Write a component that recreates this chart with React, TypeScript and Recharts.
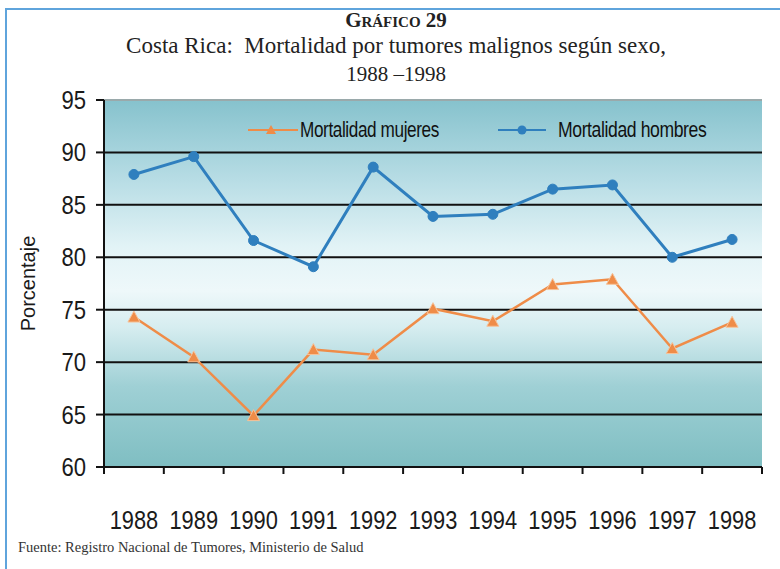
import React from "react";
import {
  LineChart,
  Line,
  XAxis,
  YAxis,
  CartesianGrid,
  ReferenceLine,
} from "recharts";

const years = ["1988", "1989", "1990", "1991", "1992", "1993", "1994", "1995", "1996", "1997", "1998"];
const mujeres = [74.3, 70.5, 64.9, 71.2, 70.7, 75.1, 73.9, 77.4, 77.9, 71.3, 73.8];
const hombres = [87.9, 89.6, 81.6, 79.1, 88.6, 83.9, 84.1, 86.5, 86.9, 80.0, 81.7];
const yTicks = [60, 65, 70, 75, 80, 85, 90, 95];
const gridValues = [65, 70, 75, 80, 85, 90];

const data = years.map((year, i) => ({
  year,
  mujeres: mujeres[i],
  hombres: hombres[i],
}));

const ORANGE = "#ef8c48";
const BLUE = "#2f7fbe";
const SANS = "'Liberation Sans', Arial, sans-serif";
const SERIF = "'Liberation Serif', 'Times New Roman', serif";

// plot area is 658px wide split over 11 years
const BAND = 658 / 11;

const Triangle = (props: any) => {
  const { cx, cy } = props;
  if (cx == null || cy == null) return null;
  return (
    <path
      d={`M${cx},${cy - 6} L${cx + 6},${cy + 5} L${cx - 6},${cy + 5} Z`}
      fill={ORANGE}
      stroke="#f6c39a"
      strokeWidth={1}
    />
  );
};

const YearTick = (props: any) => {
  const { x, y, payload, index } = props;
  return (
    <g>
      <line x1={x - BAND / 2} x2={x - BAND / 2} y1={y} y2={y + 7} stroke="#111" strokeWidth={2} />
      {index === years.length - 1 && (
        <line x1={x + BAND / 2} x2={x + BAND / 2} y1={y} y2={y + 7} stroke="#111" strokeWidth={2} />
      )}
      <g transform={`translate(${x},${y + 62}) scale(0.84,1)`}>
        <text x={0} y={0} textAnchor="middle" fontFamily={SANS} fontSize={26} fill="#1a1a1a">
          {payload.value}
        </text>
      </g>
    </g>
  );
};

const ValueTick = (props: any) => {
  const { x, y, payload } = props;
  return (
    <g transform={`translate(${x},${y + 9}) scale(0.85,1)`}>
      <text x={0} y={0} textAnchor="end" fontFamily={SANS} fontSize={26} fill="#1a1a1a">
        {payload.value}
      </text>
    </g>
  );
};

const LegendBox = () => (
  <div
    style={{
      position: "absolute",
      top: 117,
      left: 240,
      display: "flex",
      alignItems: "center",
      fontFamily: SANS,
      fontSize: 22,
      color: "#111",
      whiteSpace: "nowrap",
    }}
  >
    <svg width={60} height={20}>
      <line x1={8} x2={58} y1={10} y2={10} stroke={ORANGE} strokeWidth={2} />
      <path d="M31,5 L36,14 L26,14 Z" fill={ORANGE} />
    </svg>
    <span style={{ display: "inline-block", width: 150, transform: "scaleX(0.78)", transformOrigin: "left center", letterSpacing: -0.5 }}>
      Mortalidad mujeres
    </span>
    <svg width={62} height={20} style={{ marginLeft: 46 }}>
      <line x1={2} x2={50} y1={10} y2={10} stroke={BLUE} strokeWidth={2} />
      <circle cx={26} cy={10} r={4.5} fill={BLUE} />
    </svg>
    <span style={{ display: "inline-block", transform: "scaleX(0.8)", transformOrigin: "left center", letterSpacing: -0.5 }}>
      Mortalidad hombres
    </span>
  </div>
);

export default function App() {
  return (
    <div style={{ position: "absolute", left: 0, top: 0, width: 780, height: 569, background: "#fff", overflow: "hidden" }}>
      {/* frame */}
      <div style={{ position: "absolute", left: 5, top: 8, width: 775, height: 2, background: "#5fa4dc" }} />
      <div style={{ position: "absolute", left: 5, top: 8, width: 2, height: 561, background: "#5fa4dc" }} />

      <div style={{ position: "absolute", top: 9, left: 0, width: 792, textAlign: "center", fontFamily: SERIF, color: "#222" }}>
        <div style={{ fontSize: 21, fontWeight: "bold", fontVariant: "small-caps", lineHeight: "22px" }}>Gráfico 29</div>
        <div style={{ fontSize: 23, lineHeight: "29px" }}>Costa Rica:&nbsp; Mortalidad por tumores malignos según sexo,</div>
        <div style={{ fontSize: 21, lineHeight: "28px" }}>1988 –1998</div>
      </div>

      <LineChart
        width={780}
        height={569}
        data={data}
        margin={{ top: 100, right: 18, left: 0, bottom: 32 }}
        style={{ position: "absolute", left: 0, top: 0 }}
      >
        <defs>
          <linearGradient id="plotBg" x1="0" y1="0" x2="0" y2="1">
            <stop offset="0%" stopColor="#86c2cd" />
            <stop offset="22%" stopColor="#b8dde5" />
            <stop offset="40%" stopColor="#e2f3f6" />
            <stop offset="52%" stopColor="#eef8fa" />
            <stop offset="62%" stopColor="#d6edf0" />
            <stop offset="78%" stopColor="#9fd0d5" />
            <stop offset="100%" stopColor="#7fbec2" />
          </linearGradient>
        </defs>
        <CartesianGrid
          vertical={false}
          horizontalValues={gridValues}
          stroke="#111"
          strokeWidth={2}
          fill="url(#plotBg)"
          fillOpacity={1}
        />
        <ReferenceLine y={95} stroke="#9aa9ab" strokeWidth={2} />
        <XAxis
          dataKey="year"
          height={70}
          padding={{ left: BAND / 2, right: BAND / 2 }}
          tickSize={0}
          tickMargin={0}
          tickLine={false}
          axisLine={{ stroke: "#111", strokeWidth: 2 }}
          tick={<YearTick />}
          interval={0}
        />
        <YAxis
          domain={[60, 95]}
          ticks={yTicks}
          width={104}
          tickSize={8}
          tickMargin={10}
          axisLine={{ stroke: "#111", strokeWidth: 2 }}
          tickLine={{ stroke: "#111", strokeWidth: 2 }}
          tick={<ValueTick />}
          label={{
            value: "Porcentaje",
            angle: -90,
            position: "insideLeft",
            offset: 28,
            style: { fontFamily: SANS, fontSize: 20, fill: "#1a1a1a", textAnchor: "middle" },
          }}
        />
        <Line
          type="linear"
          dataKey="mujeres"
          name="Mortalidad mujeres"
          stroke={ORANGE}
          strokeWidth={2.5}
          dot={<Triangle />}
          isAnimationActive={false}
        />
        <Line
          type="linear"
          dataKey="hombres"
          name="Mortalidad hombres"
          stroke={BLUE}
          strokeWidth={3}
          dot={{ r: 5, fill: BLUE, stroke: BLUE, strokeWidth: 1 }}
          isAnimationActive={false}
        />
      </LineChart>

      <LegendBox />

      <div style={{ position: "absolute", left: 18, top: 539, fontFamily: SERIF, fontSize: 14.5, color: "#333" }}>
        Fuente: Registro Nacional de Tumores, Ministerio de Salud
      </div>
    </div>
  );
}
